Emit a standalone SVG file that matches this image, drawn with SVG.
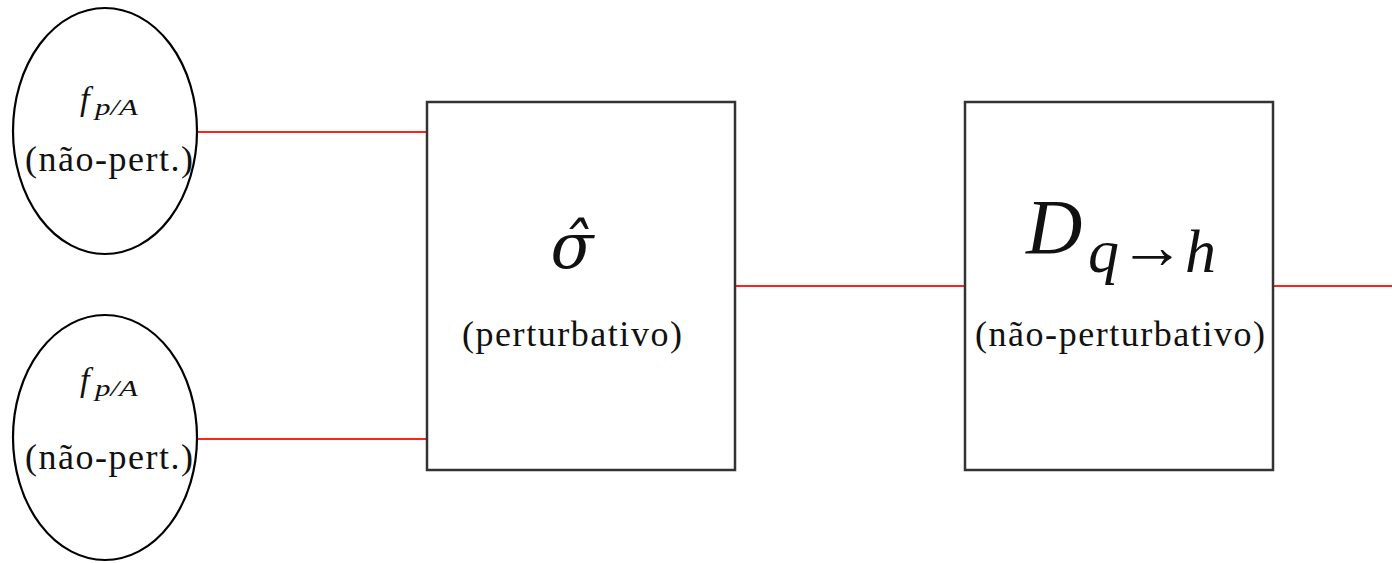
<svg xmlns="http://www.w3.org/2000/svg" width="1392" height="563" viewBox="0 0 1392 563">
<style>
.bg{fill:#ffffff}
.ell{fill:none;stroke:#000;stroke-width:2.2}
.box{fill:none;stroke:#333;stroke-width:2.5}
.wire{stroke:#ff2020;stroke-width:2;fill:none}
.t{font-family:"Liberation Serif","DejaVu Serif",serif;fill:#111}
.lbl{font-size:36px}
.m{font-style:italic}
</style>
<rect class="bg" x="0" y="0" width="1392" height="563"/>
<g id="connectors">
<line class="wire" x1="198" y1="132" x2="427" y2="132"/>
<line class="wire" x1="198" y1="439" x2="427" y2="439"/>
<line class="wire" x1="735" y1="286" x2="965" y2="286"/>
<line class="wire" x1="1273" y1="286" x2="1392" y2="286"/>
</g>
<g id="pdf1">
<ellipse class="ell" cx="105" cy="131" rx="92" ry="123"/>
<text class="t m" x="80" y="110" font-size="34">f</text>
<text class="t m" x="95" y="115" font-size="24" textLength="43" lengthAdjust="spacingAndGlyphs">p/A</text>
<text class="t lbl" x="25" y="171" textLength="168">(não-pert.)</text>
</g>
<g id="pdf2">
<ellipse class="ell" cx="105" cy="437.5" rx="92" ry="122.5"/>
<text class="t m" x="80" y="391" font-size="34">f</text>
<text class="t m" x="95" y="396" font-size="24" textLength="43" lengthAdjust="spacingAndGlyphs">p/A</text>
<text class="t lbl" x="25" y="469" textLength="168">(não-pert.)</text>
</g>
<g id="sigma">
<rect class="box" x="427" y="102" width="308" height="368"/>
<text class="m" x="572" y="268" font-size="63" text-anchor="middle" font-family="'DejaVu Serif', serif" fill="#111">σ̂</text>
<text class="t lbl" x="462" y="346" textLength="220">(perturbativo)</text>
</g>
<g id="frag">
<rect class="box" x="965" y="102" width="308" height="368"/>
<text class="t m" x="1026" y="253" font-size="78">D</text>
<text class="t m" x="1088" y="272" font-size="62">q</text>
<text class="t" x="1119" y="268" font-size="64" textLength="66" lengthAdjust="spacingAndGlyphs">→</text>
<text class="t m" x="1185" y="272" font-size="62">h</text>
<text class="t lbl" x="975" y="346" textLength="290">(não-perturbativo)</text>
</g>
</svg>
